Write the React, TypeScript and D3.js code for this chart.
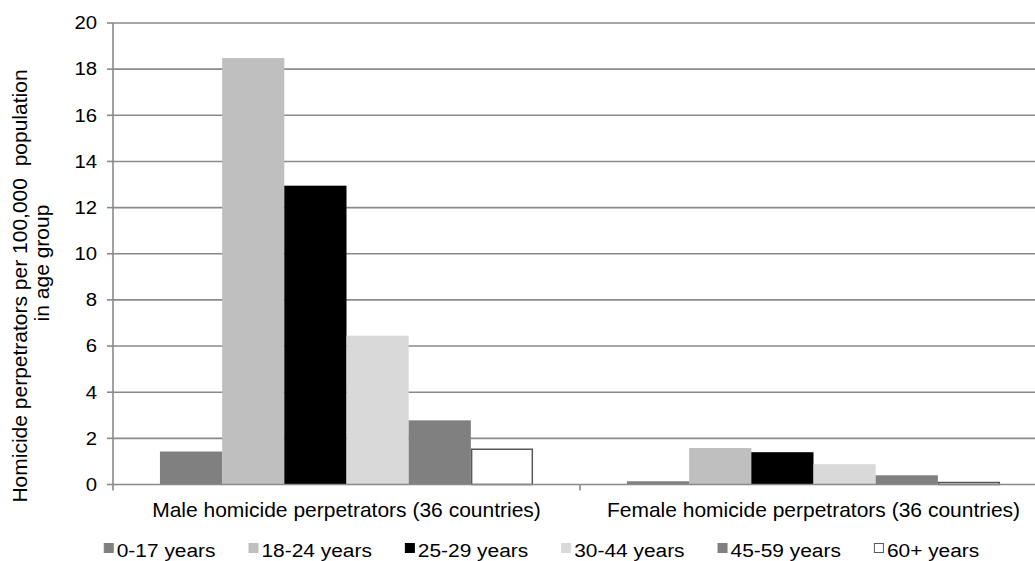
import React, { useEffect, useRef } from "react";
import * as d3 from "d3";

const categories = [
  "Male homicide perpetrators (36 countries)",
  "Female homicide perpetrators (36 countries)",
];
const ageGroups = ["0-17 years", "18-24 years", "25-29 years", "30-44 years", "45-59 years", "60+ years"];
const maleValues = [1.43, 18.48, 12.95, 6.45, 2.78, 1.56];
const femaleValues = [0.14, 1.58, 1.4, 0.88, 0.4, 0.12];
const yTicks = [0, 2, 4, 6, 8, 10, 12, 14, 16, 18, 20];
const fills = ["#808080", "#bfbfbf", "#000000", "#d9d9d9", "#808080", "#ffffff"];
const strokes = ["none", "none", "none", "none", "none", "#595959"];
const yLabelLines = ["Homicide perpetrators per 100,000  population", "in age group"];

const W = 1035;
const H = 561;
const FONT = "'Liberation Sans', Arial, Helvetica, sans-serif";

export default function App() {
  const ref = useRef<SVGSVGElement | null>(null);

  useEffect(() => {
    const svg = d3.select(ref.current);
    svg.selectAll("*").remove();

    const left = 113;
    const right = 1047;
    const top = 23;
    const bottom = 484.5;

    const x0 = d3.scaleBand<string>().domain(categories).range([left, right]).paddingInner(0).paddingOuter(0);
    const x1 = d3
      .scaleBand<string>()
      .domain(ageGroups)
      .range([0, x0.bandwidth()])
      .paddingInner(0)
      .paddingOuter(0.755);
    const y = d3.scaleLinear().domain([0, 20]).range([bottom, top]);

    const gridColor = "#8a8a8a";

    // gridlines
    svg
      .append("g")
      .selectAll("line")
      .data(yTicks.filter((t) => t > 0))
      .join("line")
      .attr("x1", left)
      .attr("x2", right)
      .attr("y1", (d) => y(d))
      .attr("y2", (d) => y(d))
      .attr("stroke", gridColor)
      .attr("stroke-width", 1.6);

    // bars
    const seriesByCat = [maleValues, femaleValues];
    const barG = svg.append("g");
    categories.forEach((cat, ci) => {
      const vals = seriesByCat[ci];
      barG
        .append("g")
        .attr("transform", `translate(${x0(cat)},0)`)
        .selectAll("rect")
        .data(vals.map((v, i) => ({ v, i })))
        .join("rect")
        .attr("x", (d) => x1(ageGroups[d.i])! + (strokes[d.i] !== "none" ? 0.75 : 0))
        .attr("y", (d) => y(d.v) + (strokes[d.i] !== "none" ? 0.75 : 0))
        .attr("width", (d) => x1.bandwidth() - (strokes[d.i] !== "none" ? 1.5 : 0))
        .attr("height", (d) => Math.max(0, bottom - y(d.v) - (strokes[d.i] !== "none" ? 0.75 : 0)))
        .attr("fill", (d) => fills[d.i])
        .attr("stroke", (d) => strokes[d.i])
        .attr("stroke-width", 1.5);
    });

    // y axis line
    svg
      .append("line")
      .attr("x1", left)
      .attr("x2", left)
      .attr("y1", top)
      .attr("y2", bottom)
      .attr("stroke", gridColor)
      .attr("stroke-width", 1.6);
    // y ticks
    svg
      .append("g")
      .selectAll("line")
      .data(yTicks)
      .join("line")
      .attr("x1", left - 6)
      .attr("x2", left)
      .attr("y1", (d) => y(d))
      .attr("y2", (d) => y(d))
      .attr("stroke", gridColor)
      .attr("stroke-width", 1.6);
    // x axis
    svg
      .append("line")
      .attr("x1", left)
      .attr("x2", right)
      .attr("y1", bottom)
      .attr("y2", bottom)
      .attr("stroke", gridColor)
      .attr("stroke-width", 1.6);
    const catEdges = [left, ...categories.map((c) => x0(c)! + x0.bandwidth())];
    svg
      .append("g")
      .selectAll("line")
      .data(catEdges)
      .join("line")
      .attr("x1", (d) => d)
      .attr("x2", (d) => d)
      .attr("y1", bottom)
      .attr("y2", bottom + 6)
      .attr("stroke", gridColor)
      .attr("stroke-width", 1.6);

    // y tick labels
    svg
      .append("g")
      .selectAll("g")
      .data(yTicks)
      .join("g")
      .attr("transform", (d) => `translate(97,${y(d)}) scale(1.13,1)`)
      .append("text")
      .attr("text-anchor", "end")
      .attr("dy", "0.35em")
      .attr("font-family", FONT)
      .attr("font-size", 18)
      .attr("fill", "#000")
      .text((d) => String(d));

    // category labels
    svg
      .append("g")
      .selectAll("text")
      .data(categories)
      .join("text")
      .attr("x", (d) => x0(d)! + x0.bandwidth() / 2)
      .attr("y", 517)
      .attr("text-anchor", "middle")
      .attr("font-family", FONT)
      .attr("font-size", 21)
      .attr("fill", "#000")
      .text((d) => d);

    // y label
    const yl = svg.append("g");
    yl.append("text")
      .attr("transform", "translate(27,286) rotate(-90)")
      .attr("text-anchor", "middle")
      .attr("font-family", FONT)
      .attr("font-size", 21)
      .attr("fill", "#000")
      .style("white-space", "pre")
      .text(yLabelLines[0]);
    yl.append("text")
      .attr("transform", "translate(49,263) rotate(-90)")
      .attr("text-anchor", "middle")
      .attr("font-family", FONT)
      .attr("font-size", 21)
      .attr("fill", "#000")
      .text(yLabelLines[1]);

    // legend
    const legendScale = 1.1;
    const legend = svg.append("g");
    const items = ageGroups.map((g, i) => {
      const item = legend.append("g");
      item
        .append("rect")
        .attr("x", 0.5)
        .attr("y", 543.5)
        .attr("width", 9)
        .attr("height", 9)
        .attr("fill", fills[i])
        .attr("stroke", strokes[i] === "none" ? fills[i] : strokes[i])
        .attr("stroke-width", 1);
      const tg = item.append("g").attr("transform", `translate(13,557) scale(${legendScale},1)`);
      const t = tg
        .append("text")
        .attr("font-family", FONT)
        .attr("font-size", 19)
        .attr("fill", "#000")
        .text(g);
      const tw = (t.node() as SVGTextElement).getComputedTextLength() * legendScale;
      return { item, w: 13 + tw };
    });
    const gap = 33;
    const total = d3.sum(items, (d) => d.w) + gap * (items.length - 1);
    let cx = 541.5 - total / 2;
    items.forEach((it) => {
      it.item.attr("transform", `translate(${cx},0)`);
      cx += it.w + gap;
    });
  }, []);

  return (
    <svg
      ref={ref}
      width={W}
      height={H}
      style={{ position: "absolute", left: 0, top: 0, background: "#fff", display: "block" }}
    />
  );
}
